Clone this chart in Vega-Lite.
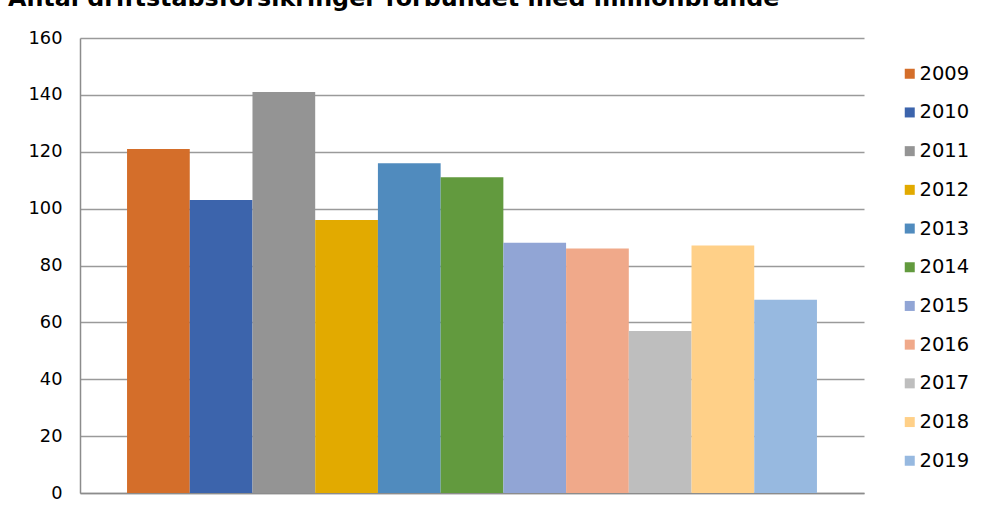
{
  "$schema": "https://vega.github.io/schema/vega-lite/v6.json",
  "autosize": {"type": "none"},
  "width": 784,
  "height": 455,
  "padding": {"left": 80, "top": 38, "right": 117, "bottom": 23},
  "background": "white",
  "title": {
    "text": "Antal driftstabsforsikringer forbundet med millionbrande",
    "anchor": "start",
    "frame": "group",
    "dx": -72,
    "dy": 15,
    "offset": 14,
    "baseline": "alphabetic",
    "font": "DejaVu Sans",
    "fontSize": 23.8,
    "fontWeight": "bold",
    "color": "#000000"
  },
  "data": {
    "values": [
      {"year": "2009", "count": 121},
      {"year": "2010", "count": 103},
      {"year": "2011", "count": 141},
      {"year": "2012", "count": 96},
      {"year": "2013", "count": 116},
      {"year": "2014", "count": 111},
      {"year": "2015", "count": 88},
      {"year": "2016", "count": 86},
      {"year": "2017", "count": 57},
      {"year": "2018", "count": 87},
      {"year": "2019", "count": 68}
    ]
  },
  "mark": {"type": "bar"},
  "encoding": {
    "x": {
      "field": "year",
      "type": "nominal",
      "scale": {"paddingInner": 0, "paddingOuter": 0.75},
      "axis": {"labels": false, "ticks": false, "title": null, "domainColor": "#8c8c8c", "domainWidth": 1.5, "grid": false}
    },
    "y": {
      "field": "count",
      "type": "quantitative",
      "scale": {"domain": [0, 160], "nice": false},
      "axis": {
        "values": [0, 20, 40, 60, 80, 100, 120, 140, 160],
        "title": null,
        "ticks": false,
        "labelPadding": 18,
        "labelFont": "DejaVu Sans",
        "labelFontSize": 17.8,
        "labelColor": "#000000",
        "domainColor": "#8c8c8c",
        "domainWidth": 1.5,
        "grid": true,
        "gridColor": "#9a9a9a",
        "gridWidth": 1.5
      }
    },
    "color": {
      "field": "year",
      "type": "nominal",
      "scale": {
        "domain": ["2009", "2010", "2011", "2012", "2013", "2014", "2015", "2016", "2017", "2018", "2019"],
        "range": ["#D46E2A", "#3C64AC", "#949494", "#E2AA00", "#508BBE", "#629A3E", "#91A5D5", "#F0A98A", "#BEBEBE", "#FFD088", "#97B9E0"]
      },
      "legend": {
        "title": null,
        "orient": "none",
        "legendX": 820,
        "legendY": 26,
        "padding": 0,
        "symbolType": "square",
        "symbolSize": 100,
        "symbolStrokeWidth": 0,
        "symbolOpacity": 1,
        "labelFont": "DejaVu Sans",
        "labelFontSize": 19.5,
        "labelColor": "#000000",
        "labelOffset": 0,
        "rowPadding": 17.7
      }
    }
  },
  "config": {
    "view": {"stroke": null}
  }
}
